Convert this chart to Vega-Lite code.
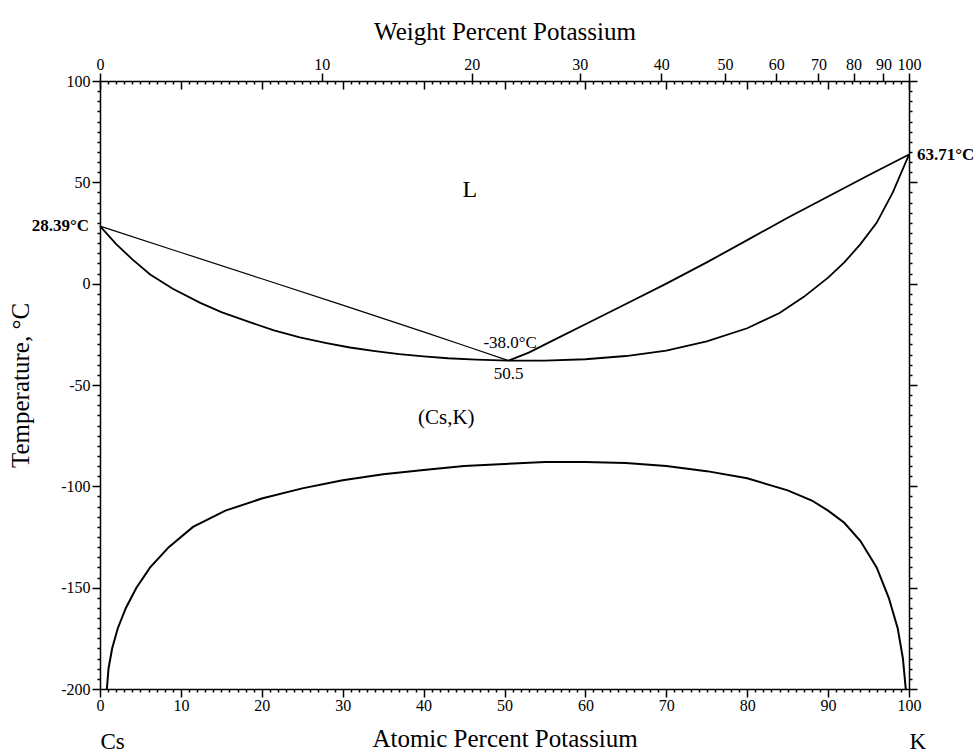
{
  "$schema": "https://vega.github.io/schema/vega-lite/v6.json",
  "autosize": {"type": "none"},
  "padding": {"left": 100, "top": 81, "right": 67, "bottom": 64},
  "width": 809,
  "height": 608,
  "background": "white",
  "config": {
    "view": {"stroke": null},
    "font": "Liberation Serif",
    "axis": {
      "grid": false,
      "domainColor": "black",
      "domainWidth": 1.5,
      "tickColor": "black",
      "tickWidth": 1.5,
      "labelFont": "Liberation Serif",
      "labelFontSize": 16,
      "labelColor": "black",
      "labelOverlap": false,
      "labelFlush": false,
      "titleFont": "Liberation Serif",
      "titleFontSize": 25,
      "titleFontWeight": "normal",
      "titleColor": "black"
    }
  },
  "datasets": {
    "curves": [
      {"curve": "solvus", "x": 0.85, "t": -200},
      {"curve": "solvus", "x": 1.05, "t": -190},
      {"curve": "solvus", "x": 1.5, "t": -180},
      {"curve": "solvus", "x": 2.2, "t": -170},
      {"curve": "solvus", "x": 3.2, "t": -160},
      {"curve": "solvus", "x": 4.5, "t": -150},
      {"curve": "solvus", "x": 6.2, "t": -140},
      {"curve": "solvus", "x": 8.5, "t": -130},
      {"curve": "solvus", "x": 11.5, "t": -120},
      {"curve": "solvus", "x": 15.5, "t": -112},
      {"curve": "solvus", "x": 20, "t": -106},
      {"curve": "solvus", "x": 25, "t": -101},
      {"curve": "solvus", "x": 30, "t": -97},
      {"curve": "solvus", "x": 35, "t": -94},
      {"curve": "solvus", "x": 40, "t": -92},
      {"curve": "solvus", "x": 45, "t": -90},
      {"curve": "solvus", "x": 50, "t": -89},
      {"curve": "solvus", "x": 55, "t": -88},
      {"curve": "solvus", "x": 60, "t": -88},
      {"curve": "solvus", "x": 65, "t": -88.5},
      {"curve": "solvus", "x": 70, "t": -90},
      {"curve": "solvus", "x": 75, "t": -92.5},
      {"curve": "solvus", "x": 80, "t": -96},
      {"curve": "solvus", "x": 85, "t": -102},
      {"curve": "solvus", "x": 88, "t": -107},
      {"curve": "solvus", "x": 90, "t": -112},
      {"curve": "solvus", "x": 92, "t": -118},
      {"curve": "solvus", "x": 94, "t": -127},
      {"curve": "solvus", "x": 96, "t": -140},
      {"curve": "solvus", "x": 97.5, "t": -155},
      {"curve": "solvus", "x": 98.6, "t": -170},
      {"curve": "solvus", "x": 99.25, "t": -185},
      {"curve": "solvus", "x": 99.6, "t": -200},
      {"curve": "liqL", "x": 0, "t": 28.39},
      {"curve": "liqL", "x": 10, "t": 15.4},
      {"curve": "liqL", "x": 20, "t": 2.4},
      {"curve": "liqL", "x": 30, "t": -10.6},
      {"curve": "liqL", "x": 40, "t": -23.8},
      {"curve": "liqL", "x": 45, "t": -30.5},
      {"curve": "liqL", "x": 50.5, "t": -38},
      {"curve": "solL", "x": 0, "t": 28.39},
      {"curve": "solL", "x": 2, "t": 19.5},
      {"curve": "solL", "x": 4, "t": 12},
      {"curve": "solL", "x": 6.2, "t": 4.5},
      {"curve": "solL", "x": 9, "t": -2.5},
      {"curve": "solL", "x": 12.4, "t": -9.5},
      {"curve": "solL", "x": 15, "t": -14},
      {"curve": "solL", "x": 18.5, "t": -19},
      {"curve": "solL", "x": 21.5, "t": -23},
      {"curve": "solL", "x": 24.7, "t": -26.5},
      {"curve": "solL", "x": 28, "t": -29.3},
      {"curve": "solL", "x": 30.9, "t": -31.5},
      {"curve": "solL", "x": 34, "t": -33.3},
      {"curve": "solL", "x": 37, "t": -34.8},
      {"curve": "solL", "x": 40, "t": -35.9},
      {"curve": "solL", "x": 43, "t": -36.8},
      {"curve": "solL", "x": 46.5, "t": -37.5},
      {"curve": "solL", "x": 50.5, "t": -38},
      {"curve": "liqR", "x": 50.5, "t": -38},
      {"curve": "liqR", "x": 53, "t": -34},
      {"curve": "liqR", "x": 56, "t": -28},
      {"curve": "liqR", "x": 60, "t": -20},
      {"curve": "liqR", "x": 65, "t": -10},
      {"curve": "liqR", "x": 70, "t": 0},
      {"curve": "liqR", "x": 75, "t": 10.5},
      {"curve": "liqR", "x": 80, "t": 21.5},
      {"curve": "liqR", "x": 85, "t": 32.5},
      {"curve": "liqR", "x": 90, "t": 43},
      {"curve": "liqR", "x": 95, "t": 53.5},
      {"curve": "liqR", "x": 100, "t": 63.71},
      {"curve": "solR", "x": 50.5, "t": -38},
      {"curve": "solR", "x": 55, "t": -38},
      {"curve": "solR", "x": 60, "t": -37.3},
      {"curve": "solR", "x": 65, "t": -35.7},
      {"curve": "solR", "x": 70, "t": -33},
      {"curve": "solR", "x": 75, "t": -28.5},
      {"curve": "solR", "x": 80, "t": -22},
      {"curve": "solR", "x": 84, "t": -14.5},
      {"curve": "solR", "x": 87, "t": -6.5},
      {"curve": "solR", "x": 90, "t": 3},
      {"curve": "solR", "x": 92, "t": 10.5},
      {"curve": "solR", "x": 94, "t": 19.5},
      {"curve": "solR", "x": 96, "t": 30},
      {"curve": "solR", "x": 98, "t": 45},
      {"curve": "solR", "x": 100, "t": 63.71}
    ],
    "labels": [
      {"x": 45.7, "t": 46, "text": "L", "kind": "big"},
      {"x": 42.8, "t": -66.1, "text": "(Cs,K)", "kind": "mid"},
      {"x": 50.7, "t": -29.3, "text": "-38.0°C", "kind": "small"},
      {"x": 50.5, "t": -44.6, "text": "50.5", "kind": "small"}
    ],
    "ends": [
      {"x": 0, "t": 28.39, "text": "28.39°C", "side": "left"},
      {"x": 100, "t": 63.71, "text": "63.71°C", "side": "right"}
    ]
  },
  "resolve": {"axis": {"x": "independent", "y": "independent"}},
  "layer": [
    {
      "data": {"name": "curves"},
      "transform": [{"filter": "datum.curve === 'solvus'"}],
      "mark": {"type": "line", "color": "black", "strokeWidth": 2},
      "encoding": {
        "x": {"field": "x", "type": "quantitative",
          "scale": {"domain": [0, 100], "nice": false, "zero": false},
          "axis": {"orient": "bottom", "tickCount": 100,
            "labelExpr": "datum.value % 10 === 0 ? '' + datum.value : ''",
            "tickSize": {"condition": {"test": "datum.value % 10 === 0", "value": 8}, "value": 3},
            "labelPadding": 0,
            "title": "Atomic Percent Potassium", "titlePadding": 13}},
        "y": {"field": "t", "type": "quantitative",
          "scale": {"domain": [-200, 100], "nice": false, "zero": false},
          "axis": {"orient": "left", "tickCount": 60,
            "labelExpr": "datum.value % 50 === 0 ? '' + datum.value : ''",
            "tickSize": {"condition": {"test": "datum.value % 50 === 0", "value": 8}, "value": 3},
            "labelPadding": 2,
            "title": "Temperature, °C", "titlePadding": 27}},
        "detail": {"field": "curve"}
      }
    },
    {
      "data": {"name": "curves"},
      "transform": [{"filter": "datum.curve === 'liqL'"}],
      "mark": {"type": "line", "color": "black", "strokeWidth": 1.2},
      "encoding": {
        "x": {"field": "x", "type": "quantitative",
          "scale": {"domain": [0, 100], "nice": false, "zero": false},
          "axis": {"orient": "bottom", "offset": -608, "tickCount": 100, "labels": false, "domain": false,
            "tickSize": {"condition": {"test": "datum.value % 10 === 0", "value": 8}, "value": 3},
            "title": null}},
        "y": {"field": "t", "type": "quantitative",
          "scale": {"domain": [-200, 100], "nice": false, "zero": false},
          "axis": {"orient": "right", "tickCount": 60, "labels": false,
            "tickSize": {"condition": {"test": "datum.value % 50 === 0", "value": 8}, "value": 3},
            "title": null}}
      }
    },
    {
      "data": {"name": "curves"},
      "transform": [{"filter": "datum.curve === 'solL' || datum.curve === 'liqR' || datum.curve === 'solR'"}],
      "mark": {"type": "line", "color": "black", "strokeWidth": 1.8},
      "encoding": {
        "x": {"field": "x", "type": "quantitative",
          "scale": {"domain": [0, 100], "nice": false, "zero": false},
          "axis": {"orient": "top",
            "values": [0, 27.414, 45.941, 59.298, 69.383, 77.269, 83.603, 88.804, 93.149, 96.835, 100],
            "labelExpr": "'' + round(100 * datum.value * 39.098 / (datum.value * 39.098 + (100 - datum.value) * 132.905))",
            "tickSize": 8, "labelPadding": 1,
            "title": "Weight Percent Potassium", "titlePadding": 12}},
        "y": {"field": "t", "type": "quantitative",
          "scale": {"domain": [-200, 100], "nice": false, "zero": false},
          "axis": null},
        "detail": {"field": "curve"}
      }
    },
    {
      "data": {"name": "labels"},
      "transform": [{"filter": "datum.kind === 'big'"}],
      "mark": {"type": "text", "font": "Liberation Serif", "fontSize": 24, "color": "black", "baseline": "middle"},
      "encoding": {
        "x": {"field": "x", "type": "quantitative",
          "scale": {"domain": [0, 100], "nice": false, "zero": false},
          "axis": {"orient": "bottom", "values": [0, 100],
            "labelExpr": "datum.value === 0 ? 'Cs' : 'K'",
            "labelAlign": "left", "labelFontSize": 23, "labelPadding": 41,
            "ticks": false, "domain": false, "title": null}},
        "y": {"field": "t", "type": "quantitative",
          "scale": {"domain": [-200, 100], "nice": false, "zero": false},
          "axis": null},
        "text": {"field": "text"}
      }
    },
    {
      "data": {"name": "labels"},
      "transform": [{"filter": "datum.kind === 'mid'"}],
      "mark": {"type": "text", "font": "Liberation Serif", "fontSize": 21, "color": "black", "baseline": "middle"},
      "encoding": {
        "x": {"field": "x", "type": "quantitative", "scale": {"domain": [0, 100], "nice": false, "zero": false}, "axis": null},
        "y": {"field": "t", "type": "quantitative", "scale": {"domain": [-200, 100], "nice": false, "zero": false}, "axis": null},
        "text": {"field": "text"}
      }
    },
    {
      "data": {"name": "labels"},
      "transform": [{"filter": "datum.kind === 'small'"}],
      "mark": {"type": "text", "font": "Liberation Serif", "fontSize": 17, "color": "black", "baseline": "middle"},
      "encoding": {
        "x": {"field": "x", "type": "quantitative", "scale": {"domain": [0, 100], "nice": false, "zero": false}, "axis": null},
        "y": {"field": "t", "type": "quantitative", "scale": {"domain": [-200, 100], "nice": false, "zero": false}, "axis": null},
        "text": {"field": "text"}
      }
    },
    {
      "data": {"name": "ends"},
      "transform": [{"filter": "datum.side === 'left'"}],
      "mark": {"type": "text", "font": "Liberation Serif", "fontSize": 17, "fontWeight": "bold", "color": "black", "baseline": "middle", "align": "right", "dx": -11},
      "encoding": {
        "x": {"field": "x", "type": "quantitative", "scale": {"domain": [0, 100], "nice": false, "zero": false}, "axis": null},
        "y": {"field": "t", "type": "quantitative", "scale": {"domain": [-200, 100], "nice": false, "zero": false}, "axis": null},
        "text": {"field": "text"}
      }
    },
    {
      "data": {"name": "ends"},
      "transform": [{"filter": "datum.side === 'right'"}],
      "mark": {"type": "text", "font": "Liberation Serif", "fontSize": 17, "fontWeight": "bold", "color": "black", "baseline": "middle", "align": "left", "dx": 8},
      "encoding": {
        "x": {"field": "x", "type": "quantitative", "scale": {"domain": [0, 100], "nice": false, "zero": false}, "axis": null},
        "y": {"field": "t", "type": "quantitative", "scale": {"domain": [-200, 100], "nice": false, "zero": false}, "axis": null},
        "text": {"field": "text"}
      }
    }
  ]
}
